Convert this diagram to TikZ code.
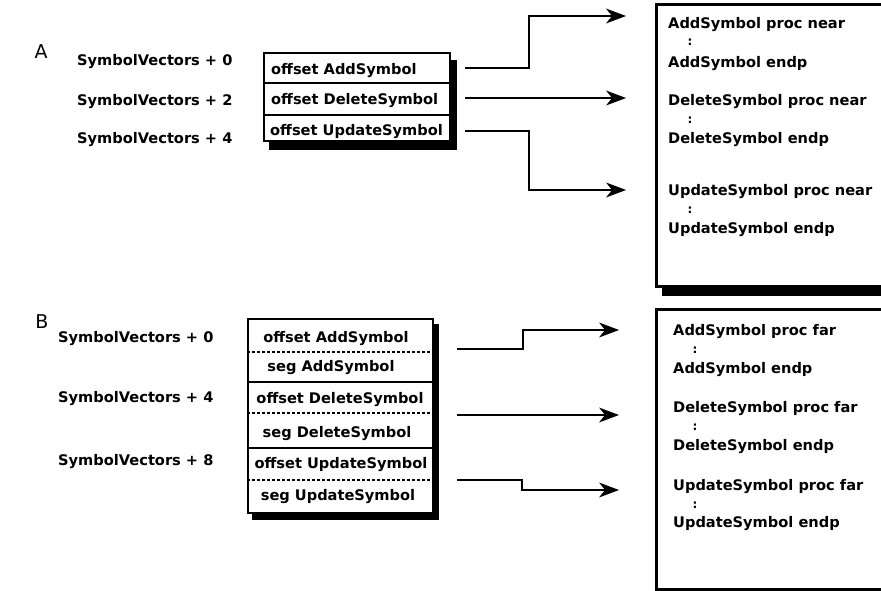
\documentclass[tikz,border=0pt]{standalone}
\usepackage{fontspec}
\setmainfont{DejaVu Sans}
\usetikzlibrary{backgrounds}
\begin{document}
\begin{tikzpicture}[x=1pt,y=-1pt,
  txt/.style={font=\bfseries\fontsize{14.6}{17}\selectfont, inner sep=0pt, anchor=west, text height=10.5pt, text depth=0pt},
  ctxt/.style={txt, anchor=center},
  dots/.style={font=\bfseries\fontsize{12}{14}\selectfont, inner sep=0pt, anchor=center},
  big/.style={font=\fontsize{19}{22}\selectfont, inner sep=0pt, text height=13.5pt, text depth=0pt},
  box/.style={draw, line width=2.4pt, fill=white, inner sep=0pt, anchor=north west},
  shadowbox/.style={fill=black},
  thindiv/.style={line width=1.5pt},
  thickdiv/.style={line width=2.4pt},
  dashdiv/.style={line width=1.1pt, dash pattern=on 3pt off 2pt},
  conn/.style={line width=2.8pt, shorten >=12pt},
  tipA/.pic={\fill (1,0) -- (-19,-7.5) -- (-13,0) -- (-19,7.5) -- cycle;}
]
\useasboundingbox (0,0) rectangle (881,591);
\clip (0,0) rectangle (881,591);

% ---------------- Part A ----------------
\node[big] (labA) at (41,52) {A};
\node[txt] (svA0) at (77,60) {SymbolVectors + 0};
\node[txt] (svA2) at (77,100) {SymbolVectors + 2};
\node[txt] (svA4) at (77,138) {SymbolVectors + 4};

\node[box, minimum width=186pt, minimum height=88pt] (vecA) at (263,52) {};
\begin{scope}[on background layer]
  \fill[shadowbox] ([xshift=6pt,yshift=-8pt]vecA.south west) rectangle ([xshift=6pt,yshift=-8pt]vecA.north east);
\end{scope}
\coordinate (dA1l) at (263,83);  \coordinate (dA1r) at (449,83);
\coordinate (dA2l) at (263,115); \coordinate (dA2r) at (449,115);
\draw[thindiv] (dA1l) -- (dA1r);
\draw[thindiv] (dA2l) -- (dA2r);
\node[txt] (oA1) at (271,69) {offset AddSymbol};
\node[txt] (oA2) at (271,99) {offset DeleteSymbol};
\node[txt] (oA3) at (270,130) {offset UpdateSymbol};

\node[box, line width=2.6pt, minimum width=260pt, minimum height=282pt] (procA) at (655,3) {};
\begin{scope}[on background layer]
  \fill[shadowbox] ([xshift=7pt,yshift=-8pt]procA.south west) rectangle ([xshift=7pt,yshift=-8pt]procA.north east);
\end{scope}
\node[txt] (pA1) at (668,23) {AddSymbol proc near};
\node[dots] (cA1) at (690,42) {:};
\node[txt] (pA2) at (668,62) {AddSymbol endp};
\node[txt] (pA3) at (668,100) {DeleteSymbol proc near};
\node[dots] (cA2) at (690,120) {:};
\node[txt] (pA4) at (668,138) {DeleteSymbol endp};
\node[txt] (pA5) at (668,190) {UpdateSymbol proc near};
\node[dots] (cA3) at (690,210) {:};
\node[txt] (pA6) at (668,228) {UpdateSymbol endp};

\coordinate (a1s) at (465,68);  \coordinate (a1e) at (625,16);
\coordinate (a2s) at (465,98);  \coordinate (a2e) at (625,98);
\coordinate (a3s) at (465,131); \coordinate (a3e) at (625,190);
\draw[conn] (a1s) -- ++(64,0) |- (a1e);
\draw[conn] (a2s) -- (a2e);
\draw[conn] (a3s) -- ++(64,0) |- (a3e);
\pic at (a1e) {tipA};
\pic at (a2e) {tipA};
\pic at (a3e) {tipA};

% ---------------- Part B ----------------
\node[big] (labB) at (42,322) {B};
\node[txt] (svB0) at (58,337) {SymbolVectors + 0};
\node[txt] (svB4) at (58,397) {SymbolVectors + 4};
\node[txt] (svB8) at (58,460) {SymbolVectors + 8};

\node[box, minimum width=185pt, minimum height=194pt] (vecB) at (247,318) {};
\begin{scope}[on background layer]
  \fill[shadowbox] ([xshift=5pt,yshift=-6pt]vecB.south west) rectangle ([xshift=5pt,yshift=-6pt]vecB.north east);
\end{scope}
\coordinate (dB1l) at (247,352); \coordinate (dB1r) at (432,352);
\coordinate (dB2l) at (247,382); \coordinate (dB2r) at (432,382);
\coordinate (dB3l) at (247,413); \coordinate (dB3r) at (432,413);
\coordinate (dB4l) at (247,448); \coordinate (dB4r) at (432,448);
\coordinate (dB5l) at (247,480); \coordinate (dB5r) at (432,480);
\draw[dashdiv] (dB1l) -- (dB1r);
\draw[thickdiv] (dB2l) -- (dB2r);
\draw[dashdiv] (dB3l) -- (dB3r);
\draw[thickdiv] (dB4l) -- (dB4r);
\draw[dashdiv] (dB5l) -- (dB5r);
\node[ctxt] (oB1) at (336,337) {offset AddSymbol};
\node[ctxt] (sB1) at (331,366) {seg AddSymbol};
\node[ctxt] (oB2) at (340,398) {offset DeleteSymbol};
\node[ctxt] (sB2) at (337,432) {seg DeleteSymbol};
\node[ctxt] (oB3) at (341,463) {offset UpdateSymbol};
\node[ctxt] (sB3) at (338,495) {seg UpdateSymbol};

\node[box, line width=2.6pt, minimum width=260pt, minimum height=280pt] (procB) at (655,308) {};
\node[txt] (pB1) at (673,330) {AddSymbol proc far};
\node[dots] (cB1) at (695,350) {:};
\node[txt] (pB2) at (673,368) {AddSymbol endp};
\node[txt] (pB3) at (673,407) {DeleteSymbol proc far};
\node[dots] (cB2) at (695,427) {:};
\node[txt] (pB4) at (673,445) {DeleteSymbol endp};
\node[txt] (pB5) at (673,485) {UpdateSymbol proc far};
\node[dots] (cB3) at (695,505) {:};
\node[txt] (pB6) at (673,522) {UpdateSymbol endp};

\coordinate (b1s) at (457,349); \coordinate (b1e) at (618,330);
\coordinate (b2s) at (457,415); \coordinate (b2e) at (618,415);
\coordinate (b3s) at (457,480); \coordinate (b3e) at (618,490);
\draw[conn] (b1s) -- ++(66,0) |- (b1e);
\draw[conn] (b2s) -- (b2e);
\draw[conn] (b3s) -- ++(65,0) |- (b3e);
\pic at (b1e) {tipA};
\pic at (b2e) {tipA};
\pic at (b3e) {tipA};
\end{tikzpicture}
\end{document}
